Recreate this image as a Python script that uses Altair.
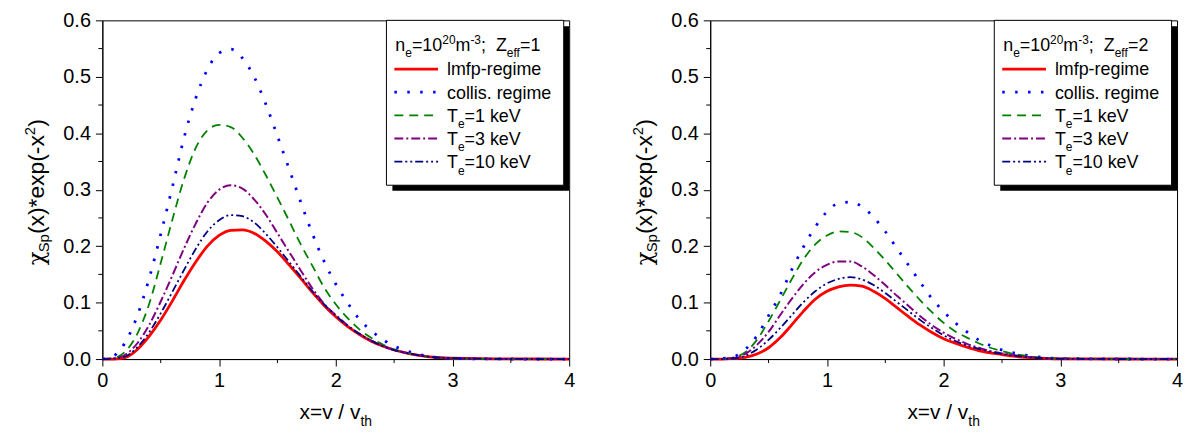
import altair as alt
import pandas as pd

# ---------------- data ----------------
X = [0.0, 0.1, 0.2, 0.3, 0.4, 0.5, 0.6, 0.7, 0.8, 0.9, 1.0, 1.1, 1.2, 1.3, 1.4, 1.5,
     1.6, 1.7, 1.8, 1.9, 2.0, 2.1, 2.2, 2.3, 2.4, 2.5, 2.6, 2.7, 2.8, 2.9, 3.0, 3.5, 4.0]

# left panel, Z_eff = 1
L_LMFP = [0, 0.000, 0.003, 0.017, 0.040, 0.069, 0.103, 0.139, 0.172, 0.200, 0.219, 0.228, 0.229,
          0.223, 0.209, 0.190, 0.167, 0.143, 0.118, 0.095, 0.075, 0.058, 0.044, 0.032, 0.023,
          0.016, 0.011, 0.007, 0.004, 0.0025, 0.0015, 0.0002, 0]
L_COLLIS = [0, 0.006, 0.031, 0.077, 0.142, 0.221, 0.305, 0.392, 0.462, 0.513, 0.542, 0.549, 0.533,
            0.500, 0.452, 0.395, 0.337, 0.278, 0.222, 0.173, 0.133, 0.100, 0.071, 0.051, 0.035,
            0.023, 0.015, 0.009, 0.0045, 0.002, 0.0008, 0.0001, 0]
L_TE1 = [0, 0.002, 0.014, 0.045, 0.097, 0.170, 0.247, 0.319, 0.374, 0.405, 0.415, 0.411, 0.392,
         0.363, 0.326, 0.286, 0.245, 0.203, 0.165, 0.127, 0.097, 0.073, 0.053, 0.038, 0.026,
         0.017, 0.011, 0.007, 0.004, 0.002, 0.001, 0.0001, 0]
L_TE3 = [0, 0.001, 0.008, 0.028, 0.060, 0.102, 0.148, 0.196, 0.240, 0.277, 0.300, 0.308, 0.302,
         0.283, 0.256, 0.223, 0.190, 0.157, 0.125, 0.098, 0.078, 0.060, 0.045, 0.033, 0.024,
         0.016, 0.011, 0.007, 0.004, 0.0025, 0.0015, 0.0002, 0]
L_TE10 = [0, 0.001, 0.005, 0.021, 0.047, 0.081, 0.119, 0.158, 0.195, 0.226, 0.246, 0.255, 0.253,
          0.242, 0.222, 0.198, 0.172, 0.146, 0.120, 0.097, 0.077, 0.059, 0.045, 0.033, 0.023,
          0.016, 0.011, 0.007, 0.004, 0.0025, 0.0015, 0.0002, 0]

# right panel, Z_eff = 2
R_LMFP = [0, 0, 0.001, 0.003, 0.009, 0.020, 0.038, 0.061, 0.085, 0.106, 0.120, 0.128, 0.131,
          0.129, 0.120, 0.107, 0.091, 0.075, 0.060, 0.047, 0.036, 0.028, 0.021, 0.015, 0.011,
          0.008, 0.005, 0.003, 0.002, 0.001, 0.0005, 0.0001, 0]
R_COLLIS = [0, 0.001, 0.004, 0.017, 0.041, 0.077, 0.114, 0.159, 0.199, 0.234, 0.261, 0.276, 0.278,
            0.270, 0.251, 0.226, 0.196, 0.166, 0.136, 0.107, 0.084, 0.064, 0.048, 0.034, 0.024,
            0.016, 0.011, 0.007, 0.004, 0.002, 0.001, 0.0001, 0]
R_TE1 = [0, 0, 0.003, 0.012, 0.034, 0.067, 0.104, 0.142, 0.177, 0.203, 0.219, 0.226, 0.225,
         0.216, 0.197, 0.175, 0.151, 0.127, 0.104, 0.083, 0.064, 0.049, 0.038, 0.028, 0.020,
         0.014, 0.009, 0.006, 0.003, 0.002, 0.001, 0.0001, 0]
R_TE3 = [0, 0, 0.002, 0.009, 0.025, 0.048, 0.078, 0.107, 0.133, 0.154, 0.167, 0.173, 0.173,
         0.164, 0.149, 0.131, 0.112, 0.094, 0.076, 0.060, 0.047, 0.036, 0.027, 0.020, 0.014,
         0.010, 0.007, 0.004, 0.002, 0.001, 0.0005, 0.0001, 0]
R_TE10 = [0, 0, 0.001, 0.006, 0.017, 0.034, 0.055, 0.078, 0.101, 0.120, 0.134, 0.142, 0.145,
          0.141, 0.131, 0.117, 0.101, 0.085, 0.069, 0.055, 0.042, 0.032, 0.024, 0.018, 0.013,
          0.009, 0.006, 0.004, 0.002, 0.001, 0.0005, 0.0001, 0]

X_TICKS = [0, 1, 2, 3, 4]
X_MINOR = [0.5, 1.5, 2.5, 3.5]
Y_TICKS = [0.0, 0.1, 0.2, 0.3, 0.4, 0.5, 0.6]
Y_MINOR = [0.05, 0.15, 0.25, 0.35, 0.45, 0.55]

ZEFF = ["1", "2"]

# series styles (draw order)
KEYS = ["lmfp", "collis", "te1", "te3", "te10"]
COLORS = {"lmfp": "#ff0000", "collis": "#0000ff", "te1": "#008000",
          "te3": "#800080", "te10": "#000080"}
DASH = {"collis": [2.5, 10.5], "te1": [9, 6], "te3": [9, 3, 2, 3],
        "te10": [8, 3, 2, 3, 2, 3]}
WIDTH = {"lmfp": 2.8, "collis": 2.8, "te1": 1.8, "te3": 2.0, "te10": 1.8}

FONT = "Liberation Sans"
W, H = 470, 341

AW = {' ': 278, '(': 333, ')': 333, '*': 389, '-': 333, '.': 278, '/': 278, ';': 278,
      '=': 584, 'S': 667, 'T': 611, 'Z': 611, 'V': 667, 'a': 556, 'c': 500, 'e': 556,
      'f': 278, 'g': 556, 'h': 556, 'i': 222, 'k': 500, 'l': 222, 'm': 833, 'n': 556,
      'o': 556, 'p': 556, 'r': 333, 's': 500, 't': 278, 'v': 500, 'x': 500, 'y': 500,
      'χ': 560}


def tw(s, size):
    return sum(AW.get(c, 556) for c in s) / 1000.0 * size


ONE = pd.DataFrame({"a": [0]})

XS = alt.Scale(domain=[0, 4], nice=False, zero=False)
YS = alt.Scale(domain=[0, 0.6], nice=False, zero=False)
XAXIS = alt.Axis(values=X_TICKS, format="d", tickSize=7, labelPadding=5, labelFlush=False,
                 title=None, grid=False, labelFont=FONT, labelFontSize=20, labelColor="black",
                 domainColor="black", tickColor="black")
YAXIS = alt.Axis(values=Y_TICKS, format=".1f", tickSize=7, labelPadding=5, labelFlush=False,
                 title=None, grid=False, labelFont=FONT, labelFontSize=20, labelColor="black",
                 domainColor="black", tickColor="black")


def txt(s, x, y, size, angle=0, font=FONT):
    kw = dict(text=s, align="left", baseline="alphabetic", font=font, fontSize=size,
              color="black")
    if angle:
        kw["angle"] = angle
    return alt.Chart(ONE).mark_text(**kw).encode(x=alt.value(x), y=alt.value(y))


def rich(pieces, x0, y0, angle=0):
    out = []
    cur = 0.0
    for s, size, shift in pieces:
        font = "DejaVu Serif" if s == "χ" else FONT
        if s.strip():
            if angle == 0:
                out.append(txt(s, x0 + cur, y0 + shift, size, font=font))
            else:
                out.append(txt(s, x0 + shift, y0 - cur, size, angle=270, font=font))
        cur += tw(s, size)
    return out


def style(key):
    kw = dict(color=COLORS[key], strokeWidth=WIDTH[key])
    if key in DASH:
        kw["strokeDash"] = DASH[key]
    return kw


def panel(series, zeff, anchor=False):
    layers = []
    # curves
    for key in KEYS:
        df = pd.DataFrame({"x": X, "y": series[key]})
        layers.append(
            alt.Chart(df).mark_line(interpolate="monotone", **style(key)).encode(
                x=alt.X("x:Q", scale=XS, axis=XAXIS),
                y=alt.Y("y:Q", scale=YS, axis=YAXIS)))
    # minor ticks
    layers.append(alt.Chart(pd.DataFrame({"x": X_MINOR})).mark_rule(color="black").encode(
        x=alt.X("x:Q", scale=XS, axis=XAXIS), y=alt.value(H), y2=alt.value(H + 4)))
    layers.append(alt.Chart(pd.DataFrame({"y": Y_MINOR})).mark_rule(color="black").encode(
        y=alt.Y("y:Q", scale=YS, axis=YAXIS), x=alt.value(0), x2=alt.value(-4)))
    # legend box with shadow
    layers.append(alt.Chart(ONE).mark_rect(fill="black", stroke="black", strokeWidth=0).encode(
        x=alt.value(292), x2=alt.value(470), y=alt.value(6), y2=alt.value(171.5)))
    layers.append(alt.Chart(ONE).mark_rect(fill="white", stroke="black", strokeWidth=1).encode(
        x=alt.value(286), x2=alt.value(464.5), y=alt.value(0), y2=alt.value(166)))
    # legend header
    big, small = 18, 12
    layers += rich([("n", big, 0), ("e", small, 6), ("=10", big, 0), ("20", small, -7.5),
                    ("m", big, 0), ("-3", small, -7.5), (";", big, 0), ("  ", big, 0),
                    ("Z", big, 0), ("eff", small, 6), ("=" + zeff, big, 0)], 295, 31)
    labels = {
        "lmfp": [("lmfp-regime", big, 0)],
        "collis": [("collis. regime", big, 0)],
        "te1": [("T", big, 0), ("e", small, 6.5), ("=1 keV", big, 0)],
        "te3": [("T", big, 0), ("e", small, 6.5), ("=3 keV", big, 0)],
        "te10": [("T", big, 0), ("e", small, 6.5), ("=10 keV", big, 0)],
    }
    for i, key in enumerate(KEYS):
        base = 55.5 + i * 23.3
        layers.append(alt.Chart(ONE).mark_rule(**style(key)).encode(
            x=alt.value(294), x2=alt.value(338), y=alt.value(base - 6.5)))
        layers += rich(labels[key], 347, base)
    # y title (rotated)
    ypieces = [("χ", 23, 0), ("Sp", 15, 5), ("(x)*exp(-x", 23, 0), ("2", 15, -9), (")", 23, 0)]
    ylen = sum(tw(s, z) for s, z, _ in ypieces)
    layers += rich(ypieces, -59, 173 + ylen / 2, angle=270)
    # x title
    xpieces = [("x=v / v", 21, 0), ("th", 14, 7)]
    xlen = sum(tw(s, z) for s, z, _ in xpieces)
    layers += rich(xpieces, W / 2 - xlen / 2, 401)
    if anchor:
        layers.append(alt.Chart(ONE).mark_rule(color="white", strokeWidth=1).encode(
            x=alt.value(-94), x2=alt.value(-90), y=alt.value(100)))
    return alt.layer(*layers).properties(width=W, height=H)


left = panel({"lmfp": L_LMFP, "collis": L_COLLIS, "te1": L_TE1, "te3": L_TE3, "te10": L_TE10},
             ZEFF[0], anchor=True)
right = panel({"lmfp": R_LMFP, "collis": R_COLLIS, "te1": R_TE1, "te3": R_TE3, "te10": R_TE10},
              ZEFF[1])

chart = alt.hconcat(left, right, spacing=142, bounds="flush").properties(
    padding={"left": 0, "top": 0, "right": 0, "bottom": 0},
    background="white"
).configure_view(stroke="black", strokeWidth=1)

chart.save("out.html", embed_options={"renderer": "svg", "actions": False})
